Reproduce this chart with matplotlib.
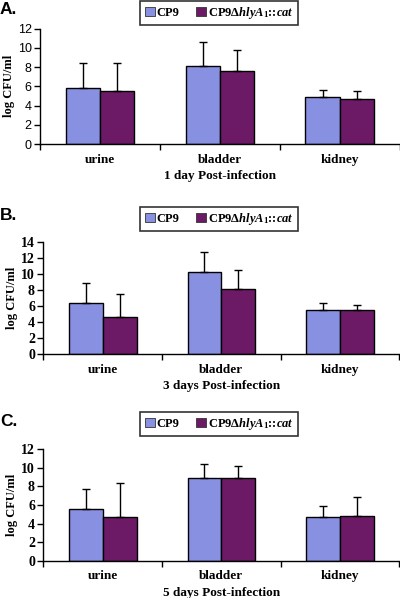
import matplotlib
matplotlib.use("Agg")
import matplotlib.pyplot as plt
from matplotlib.patches import Patch
import numpy as np

plt.rcParams['mathtext.fontset'] = 'custom'
plt.rcParams['mathtext.rm'] = 'Liberation Serif:bold'
plt.rcParams['mathtext.it'] = 'Liberation Serif:bold:italic'
plt.rcParams['mathtext.bf'] = 'Liberation Serif:bold'

categories = ["urine", "bladder", "kidney"]
series_names = ["CP9", r"CP9$\Delta\mathit{hlyA}_{1}$::$\mathit{cat}$"]

# Panel A: 1 day
a_cp9 = [5.8, 8.15, 4.9]
a_cp9_err = [2.6, 2.5, 0.7]
a_mut = [5.5, 7.55, 4.7]
a_mut_err = [2.9, 2.2, 0.8]

# Panel B: 3 days
b_cp9 = [6.4, 10.2, 5.5]
b_cp9_err = [2.4, 2.5, 0.8]
b_mut = [4.6, 8.05, 5.5]
b_mut_err = [2.85, 2.45, 0.55]

# Panel C: 5 days
c_cp9 = [5.6, 8.88, 4.67]
c_cp9_err = [2.15, 1.5, 1.2]
c_mut = [4.74, 8.88, 4.85]
c_mut_err = [3.6, 1.3, 2.05]

panel_letters = ["A.", "B.", "C."]
xlabels = ["1 day Post-infection", "3 days Post-infection", "5 days Post-infection"]
ymaxes = [12, 14, 12]

c_blue = "#8890E2"
c_purple = "#6D1A66"

fig = plt.figure(figsize=(4.0, 5.98), dpi=100)
H = 598.0

panels = [
    (a_cp9, a_cp9_err, a_mut, a_mut_err, 40, 144, 28.7, True),
    (b_cp9, b_cp9_err, b_mut, b_mut_err, 43.3, 354, 241.7, False),
    (c_cp9, c_cp9_err, c_mut, c_mut_err, 43.3, 560.7, 449.3, False),
]
legend_y = [13, 219, 424]
letter_y = [10, 216, 421]

serif = "Liberation Serif"
sans = "Liberation Sans"

for i, (v1, e1, v2, e2, left, ybot, ytop, sans_ticks) in enumerate(panels):
    ax = fig.add_axes([left / 400, 1 - ybot / H, (399.5 - left) / 400, (ybot - ytop) / H])
    x = np.arange(len(categories))
    w = 0.285
    ax.bar(x - w / 2, v1, w, color=c_blue, edgecolor="black", linewidth=1.0, zorder=2)
    ax.bar(x + w / 2, v2, w, color=c_purple, edgecolor="black", linewidth=1.0, zorder=2)
    ax.errorbar(x - w / 2, v1, yerr=[np.zeros(3), e1], fmt="none", ecolor="black",
                elinewidth=1.0, capsize=3, capthick=1.0, zorder=3)
    ax.errorbar(x + w / 2, v2, yerr=[np.zeros(3), e2], fmt="none", ecolor="black",
                elinewidth=1.0, capsize=3, capthick=1.0, zorder=3)
    ax.set_xlim(-0.5, 2.5)
    ax.set_ylim(0, ymaxes[i])
    ax.set_yticks(np.arange(0, ymaxes[i] + 1, 2))
    ax.spines["top"].set_visible(False)
    ax.spines["right"].set_visible(False)
    ax.spines["left"].set_linewidth(1.0)
    ax.spines["bottom"].set_linewidth(1.0)
    ax.set_xticks(x)
    ax.set_xticklabels(categories, fontfamily=serif, fontweight="bold", fontsize=9.5)
    ax.tick_params(axis="x", which="major", length=0, pad=7)
    ax.set_xticks([0.5, 1.5, 2.5, -0.5], minor=True)
    ax.tick_params(axis="x", which="minor", length=4, width=1.0, direction="out")
    ax.tick_params(axis="y", length=4, width=1.0, direction="out", pad=2)
    if sans_ticks:
        for t in ax.get_yticklabels():
            t.set_fontfamily(sans)
            t.set_fontsize(9)
    else:
        for t in ax.get_yticklabels():
            t.set_fontfamily(serif)
            t.set_fontweight("bold")
            t.set_fontsize(10)
    ax.set_xlabel(xlabels[i], fontfamily=serif, fontweight="bold", fontsize=9.5, labelpad=3)
    ax.set_ylabel("log CFU/ml", fontfamily=serif, fontweight="bold", fontsize=9, labelpad=2)
    fig.text(0.0 / 400, 1 - letter_y[i] / H, panel_letters[i], fontfamily=sans,
             fontweight="bold", fontsize=12.5, va="center", ha="left")
    handles = [Patch(facecolor=c_blue, edgecolor="#333333", linewidth=0.6),
               Patch(facecolor=c_purple, edgecolor="#333333", linewidth=0.6)]
    leg = fig.legend(handles, series_names, loc="center", ncol=2,
                     bbox_to_anchor=(219 / 400, 1 - legend_y[i] / H),
                     frameon=True, fancybox=False, edgecolor="black",
                     handlelength=0.8, handleheight=0.8, handletextpad=0.15,
                     columnspacing=1.3, borderpad=0.35, borderaxespad=0,
                     prop={"family": serif, "weight": "bold", "size": 9})
    leg.get_frame().set_linewidth(1.2)

fig.savefig("out.png", dpi=100)
